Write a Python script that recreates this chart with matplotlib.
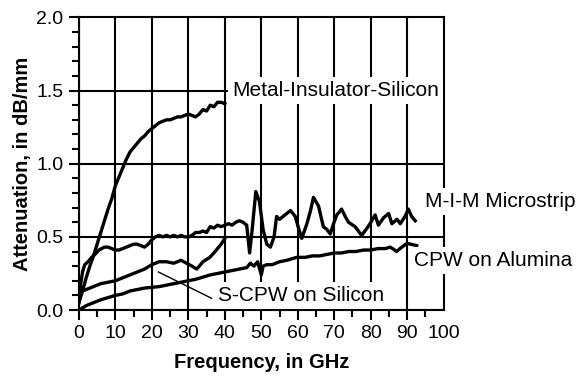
import matplotlib
matplotlib.use('Agg')
import matplotlib.pyplot as plt
from matplotlib.ticker import MultipleLocator, FixedLocator

plt.rcParams['font.family'] = ['Liberation Sans', 'DejaVu Sans']

# Metal-Insulator-Silicon
mis_f = [0, 1, 2, 3, 4, 5, 6, 7, 8, 9, 10, 11, 12, 13, 14, 15, 16, 17, 18, 19, 20,
         21, 22, 23, 24, 25, 26, 27, 28, 29, 30, 31, 32, 33, 34, 35, 36, 37, 38, 39, 40]
mis_a = [0.05, 0.13, 0.22, 0.30, 0.37, 0.45, 0.53, 0.61, 0.69, 0.76, 0.85, 0.91, 0.97,
         1.03, 1.08, 1.11, 1.14, 1.17, 1.19, 1.22, 1.24, 1.26, 1.28, 1.29, 1.30, 1.30,
         1.31, 1.32, 1.32, 1.33, 1.34, 1.33, 1.32, 1.34, 1.37, 1.36, 1.40, 1.39, 1.42,
         1.42, 1.41]

# M-I-M Microstrip
mim_f = [0, 0.5, 1, 1.6, 2.5, 3.5, 4.4, 5.5, 7, 8, 9, 10, 11, 12, 13, 14, 15, 16, 17,
         18, 19, 20, 21, 22, 23, 24, 25, 26, 27, 28, 29, 30, 31, 32, 33, 34, 35, 36, 37,
         38, 39, 40, 41, 42, 43, 44, 45, 46, 46.8, 47.5, 48.5, 49.5, 50.5, 51.5, 52.5,
         53.5, 54.2, 55, 56, 57, 58, 59.3, 60.2, 61.1, 62.5, 63.5, 64.3, 65.7, 67, 68,
         68.9, 69.8, 70.7, 72, 73, 73.9, 75.7, 77.5, 79, 79.8, 81.2, 82.1, 83.5, 84.9,
         85.8, 87.2, 88.1, 89.4, 90.3, 91.2, 92.2]
mim_a = [0.05, 0.18, 0.26, 0.31, 0.33, 0.36, 0.38, 0.41, 0.43, 0.43, 0.42, 0.41, 0.41,
         0.42, 0.43, 0.44, 0.45, 0.45, 0.44, 0.43, 0.45, 0.48, 0.50, 0.51, 0.50, 0.51,
         0.50, 0.51, 0.50, 0.51, 0.50, 0.50, 0.51, 0.53, 0.53, 0.54, 0.53, 0.57, 0.56,
         0.58, 0.57, 0.58, 0.59, 0.58, 0.60, 0.61, 0.60, 0.58, 0.39, 0.55, 0.81, 0.74,
         0.55, 0.45, 0.43, 0.50, 0.64, 0.62, 0.64, 0.66, 0.68, 0.64, 0.56, 0.49, 0.59,
         0.68, 0.77, 0.71, 0.57, 0.55, 0.52, 0.59, 0.65, 0.69, 0.64, 0.60, 0.57, 0.51,
         0.56, 0.59, 0.65, 0.58, 0.63, 0.66, 0.59, 0.62, 0.59, 0.64, 0.69, 0.64, 0.61]

# S-CPW on Silicon
scpw_f = [0, 2, 4, 6, 8, 10, 12, 14, 16, 18, 20, 22, 24, 26, 28, 29.5, 31, 32.3, 33,
          34, 35.9, 37, 38, 39, 40]
scpw_a = [0.12, 0.14, 0.16, 0.18, 0.19, 0.20, 0.22, 0.24, 0.26, 0.28, 0.31, 0.33, 0.33,
          0.32, 0.34, 0.32, 0.30, 0.28, 0.30, 0.33, 0.36, 0.39, 0.42, 0.45, 0.49]

# CPW on Alumina
cpw_f = [0, 2, 4, 6, 8, 10, 12, 14, 16, 18, 20, 22, 24, 26, 28, 30, 32, 34, 36, 38,
         40, 42, 44, 46, 47, 48, 49, 50, 50.5, 51.5, 53, 55, 57, 59.7, 62, 64, 66, 68,
         70, 72, 74, 76, 78, 80, 82, 84, 85.3, 86, 87.1, 88, 89.9, 91, 92.6]
cpw_a = [0.0, 0.03, 0.05, 0.07, 0.085, 0.10, 0.11, 0.13, 0.14, 0.15, 0.155, 0.16, 0.17,
         0.18, 0.19, 0.20, 0.21, 0.225, 0.24, 0.25, 0.26, 0.27, 0.28, 0.29, 0.32, 0.30,
         0.33, 0.24, 0.30, 0.31, 0.31, 0.33, 0.34, 0.36, 0.36, 0.37, 0.37, 0.38, 0.39,
         0.39, 0.40, 0.40, 0.41, 0.41, 0.42, 0.42, 0.43, 0.42, 0.40, 0.42, 0.455, 0.45,
         0.44]

x_ticks = [0, 10, 20, 30, 40, 50, 60, 70, 80, 90, 100]
y_ticks = [0.0, 0.5, 1.0, 1.5, 2.0]

fig = plt.figure(figsize=(5.8, 3.79), dpi=100)
ax = fig.add_axes([0.136, 0.182, 0.629, 0.772])

for f, a in [(mis_f, mis_a), (mim_f, mim_a), (scpw_f, scpw_a), (cpw_f, cpw_a)]:
    ax.plot(f, a, color='black', lw=2.4, solid_joinstyle='round', zorder=3)

ax.set_xlim(0, 100)
ax.set_ylim(0, 2.0)
ax.xaxis.set_major_locator(FixedLocator(x_ticks))
ax.xaxis.set_minor_locator(MultipleLocator(5))
ax.yaxis.set_major_locator(FixedLocator(y_ticks))
ax.yaxis.set_minor_locator(MultipleLocator(0.1))
ax.set_yticklabels([f'{v:.1f}' for v in y_ticks])

ax.grid(True, which='major', color='black', lw=1.5)
ax.set_axisbelow(True)
for s in ax.spines.values():
    s.set_linewidth(1.5)

ax.tick_params(which='major', direction='out', length=7, width=1.5, labelsize=14,
               pad=4, colors='black')
ax.tick_params(which='minor', direction='out', length=5, width=1.5)
ax.xaxis.get_major_ticks()[-1].tick1line.set_visible(False)
ax.xaxis.get_major_ticks()[-1].gridline.set_visible(False)
ax.yaxis.get_major_ticks()[-1].gridline.set_visible(False)

ax.set_xlabel('Frequency, in GHz', fontsize=14.5, fontweight='bold', labelpad=8)
ax.set_ylabel('Attenuation, in dB/mm', fontsize=14.5, fontweight='bold', labelpad=3)

box = dict(boxstyle='square,pad=0.2', fc='white', ec='none')
ax.text(42, 1.5, 'Metal-Insulator-Silicon', fontsize=15, va='center', ha='left',
        bbox=box, zorder=4)
ax.text(95, 0.74, 'M-I-M Microstrip', fontsize=15, va='center', ha='left',
        bbox=box, zorder=4, clip_on=False)
ax.text(91.8, 0.34, 'CPW on Alumina', fontsize=15, va='center', ha='left',
        bbox=box, zorder=4, clip_on=False)
ax.text(38, 0.10, 'S-CPW on Silicon', fontsize=15, va='center', ha='left',
        bbox=box, zorder=4)
ax.plot([21.8, 36.4], [0.26, 0.08], color='black', lw=1.0, zorder=3)

fig.savefig('out.png', dpi=100)
